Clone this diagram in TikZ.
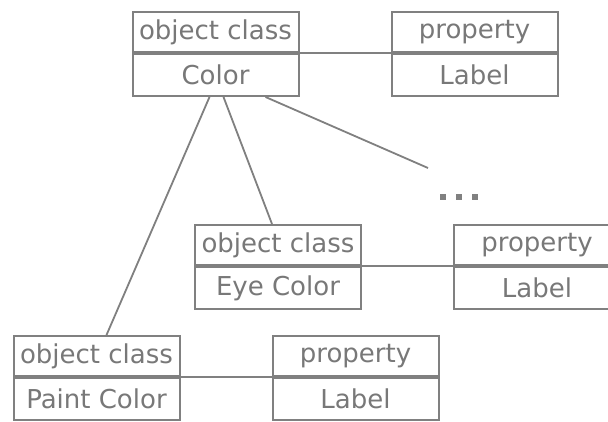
\documentclass[tikz,border=0pt]{standalone}
\usepackage{fontspec}
\setmainfont{DejaVu Sans}
\usetikzlibrary{positioning}
\definecolor{linegray}{gray}{0.5}
\definecolor{textgray}{gray}{0.47}
\tikzset{
  part/.style={draw=linegray, line width=2pt, minimum width=166pt,
    inner sep=0pt, text=textgray, font=\fontsize{26}{26}\selectfont},
  head/.style={part, minimum height=40pt},
  body/.style={part, minimum height=42pt},
  link/.style={draw=linegray, line width=1.8pt}
}
\begin{document}
\begin{tikzpicture}[x=1pt,y=-1pt]
  \clip (0,0) rectangle (608,422);
  \fill[white] (0,0) rectangle (608,422);
  % object classes
  \node[head] (colorhead) at (215.5,32) {object class};
  \node[body, below=0pt of colorhead] (colorbody) {Color};
  \node[head] (eyehead) at (278,245) {object class};
  \node[body, below=0pt of eyehead] (eyebody) {Eye Color};
  \node[head] (painthead) at (96.5,356) {object class};
  \node[body, below=0pt of painthead] (paintbody) {Paint Color};
  % properties
  \node[head, right=91pt of colorhead] (colorprop) {property};
  \node[body, below=0pt of colorprop] (colorlabel) {Label};
  \node[head, right=91pt of eyehead] (eyeprop) {property};
  \node[body, below=0pt of eyeprop] (eyelabel) {Label};
  \node[head, right=91pt of painthead] (paintprop) {property};
  \node[body, below=0pt of paintprop] (paintlabel) {Label};
  \coordinate (more) at (428,168);
  \draw[link] (colorhead.south east) -- (colorprop.south west);
  \draw[link] (eyehead.south east) -- (eyeprop.south west);
  \draw[link] (painthead.south east) -- (paintprop.south west);
  \draw[link] ([xshift=-6pt]colorbody.south) -- ([xshift=10pt]painthead.north);
  \draw[link] ([xshift=8pt]colorbody.south) -- ([xshift=-6pt]eyehead.north);
  \draw[link] ([xshift=50pt]colorbody.south) -- (more);
  \foreach \x in {443,459,475}
    \fill[linegray] (\x-3,194) rectangle ++(6,6);
\end{tikzpicture}
\end{document}
